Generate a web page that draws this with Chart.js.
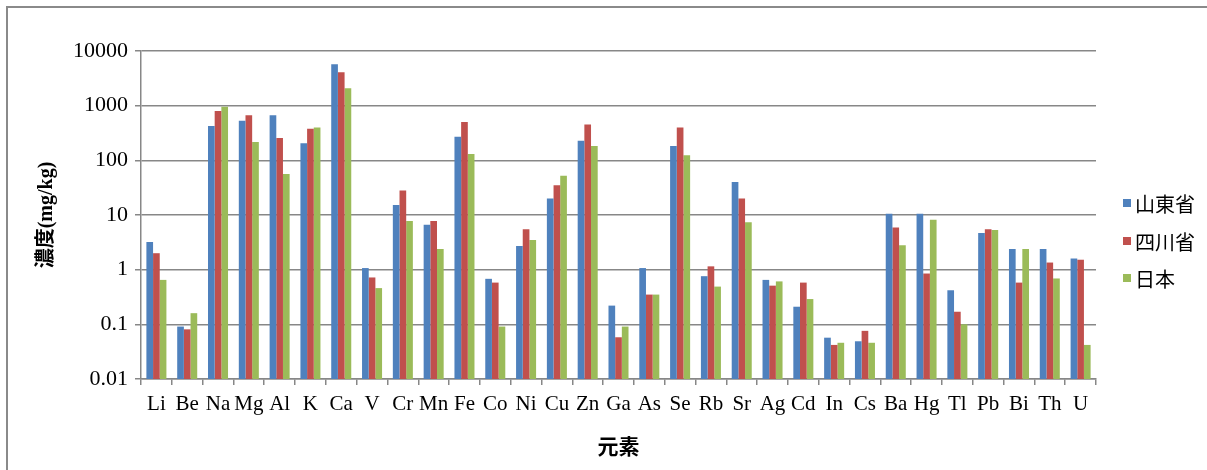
<!DOCTYPE html>
<html>
<head>
<meta charset="utf-8">
<script src="https://cdn.jsdelivr.net/npm/chart.js@4/dist/chart.umd.min.js"></script>
<style>
  html, body { margin: 0; padding: 0; background: #fff; }
  #wrap { width: 1207px; height: 470px; }
</style>
</head>
<body>
<div id="wrap"><canvas id="myChart" width="1207" height="470"></canvas></div>
<script>
// 元素ごとの濃度 (mg/kg)
var elements = ['Li', 'Be', 'Na', 'Mg', 'Al', 'K', 'Ca', 'V', 'Cr', 'Mn', 'Fe', 'Co', 'Ni', 'Cu', 'Zn', 'Ga',
    'As', 'Se', 'Rb', 'Sr', 'Ag', 'Cd', 'In', 'Cs', 'Ba', 'Hg', 'Tl', 'Pb', 'Bi', 'Th', 'U'];

var shandong = [3.2, 0.091, 425, 530, 665, 205, 5700, 1.07, 15.2, 6.6, 270, 0.68, 2.7, 20, 228, 0.22,
    1.07, 183, 0.76, 40, 0.65, 0.21, 0.057, 0.049, 10.5, 10.5, 0.42, 4.7, 2.4, 2.4, 1.6];

var sichuan = [2.0, 0.081, 795, 665, 255, 380, 4100, 0.72, 28, 7.8, 500, 0.58, 5.5, 35, 450, 0.058,
    0.35, 400, 1.15, 20, 0.51, 0.58, 0.042, 0.076, 5.9, 0.85, 0.17, 5.5, 0.58, 1.35, 1.52];

var japan = [0.65, 0.16, 960, 216, 56, 400, 2080, 0.46, 7.8, 2.4, 130, 0.091, 3.5, 52, 183, 0.091,
    0.35, 124, 0.49, 7.4, 0.61, 0.29, 0.046, 0.046, 2.8, 8.2, 0.1, 5.3, 2.4, 0.69, 0.042];

var seriesNames = ['山東省', '四川省', '日本'];
var yTicks = [0.01, 0.1, 1, 10, 100, 1000, 10000];

var gridGrey = '#878787';
var serif = "'Liberation Serif', 'Times New Roman', serif";

// 外枠と凡例
var framePlugin = {
    id: 'frame',
    beforeDraw: function (chart) {
        var c = chart.ctx;
        c.save();
        c.fillStyle = '#fff';
        c.fillRect(0, 0, chart.width, chart.height);
        c.strokeStyle = '#8a8a8a';
        c.lineWidth = 2;
        c.strokeRect(7, 7, chart.width + 20, chart.height + 20);
        c.restore();
    },
    afterDraw: function (chart) {
        var c = chart.ctx;
        var rowY = [203, 241, 278];
        c.save();
        c.font = "20px 'Noto Sans CJK JP', sans-serif";
        c.textBaseline = 'middle';
        c.textAlign = 'left';
        chart.data.datasets.forEach(function (ds, i) {
            c.fillStyle = ds.backgroundColor;
            c.fillRect(1123, rowY[i] - 4, 8, 8);
            c.fillStyle = '#000';
            c.fillText(ds.label, 1135, rowY[i] + 1);
        });
        c.restore();
    }
};

var ctx = document.getElementById('myChart').getContext('2d');
var myChart = new Chart(ctx, {
    type: 'bar',
    data: {
        labels: elements,
        datasets: [
            { label: seriesNames[0], data: shandong, backgroundColor: '#4F81BD' },
            { label: seriesNames[1], data: sichuan, backgroundColor: '#C0504D' },
            { label: seriesNames[2], data: japan, backgroundColor: '#9BBB59' }
        ]
    },
    options: {
        responsive: false,
        animation: false,
        devicePixelRatio: 1,
        layout: { padding: { left: 0, top: 51, right: 111, bottom: 0 } },
        datasets: {
            bar: { categoryPercentage: 0.65, barPercentage: 1.0, borderWidth: 0 }
        },
        plugins: {
            legend: { display: false },
            tooltip: { enabled: false }
        },
        scales: {
            x: {
                afterFit: function (scale) { scale.height = 91; },
                grid: {
                    drawOnChartArea: false,
                    drawTicks: true,
                    tickLength: 6,
                    color: gridGrey,
                    lineWidth: 1.5
                },
                border: { color: gridGrey, width: 1.5 },
                ticks: {
                    color: '#000',
                    padding: 7,
                    maxRotation: 0,
                    autoSkip: false,
                    font: { family: serif, size: 21 }
                },
                title: {
                    display: true,
                    text: '元素',
                    color: '#000',
                    padding: { top: 0, bottom: 11 },
                    font: { family: "'Noto Sans CJK JP', sans-serif", size: 21, weight: 'bold' }
                }
            },
            y: {
                type: 'logarithmic',
                min: 0.01,
                max: 10000,
                afterFit: function (scale) { scale.width = 141; },
                afterBuildTicks: function (scale) {
                    scale.ticks = yTicks.map(function (v) { return { value: v }; });
                },
                grid: {
                    color: gridGrey,
                    lineWidth: 1.5,
                    tickLength: 6
                },
                border: { color: gridGrey, width: 1.5 },
                ticks: {
                    color: '#000',
                    padding: 7,
                    font: { family: serif, size: 22 },
                    callback: function (value) { return String(value); }
                },
                title: {
                    display: true,
                    text: '濃度(mg/kg)',
                    color: '#000',
                    padding: { top: 35, bottom: 0 },
                    font: { family: "'Liberation Serif', 'Noto Sans CJK JP', serif", size: 20, weight: 'bold' }
                }
            }
        }
    },
    plugins: [framePlugin]
});
</script>
</body>
</html>
